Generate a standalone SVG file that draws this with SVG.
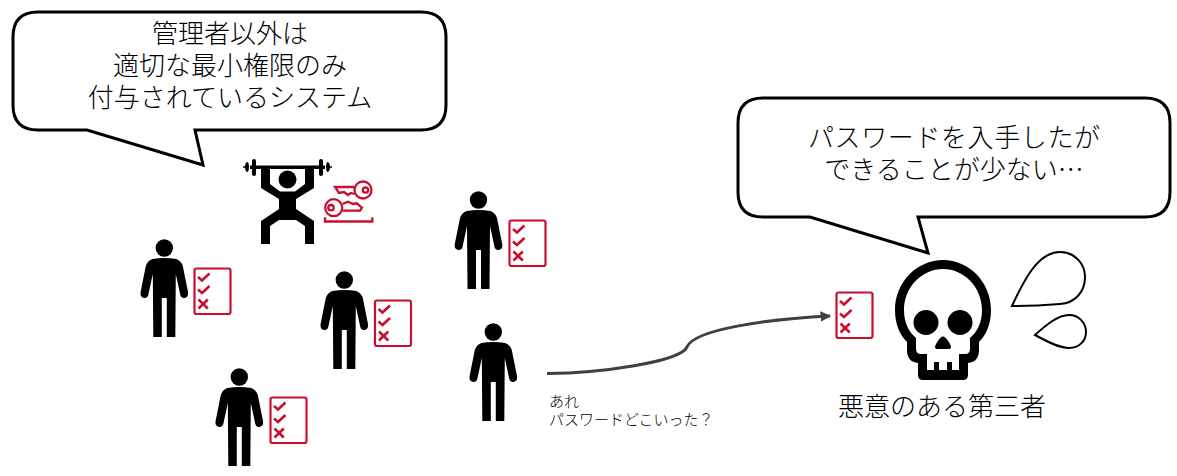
<svg xmlns="http://www.w3.org/2000/svg" width="1177" height="476" viewBox="0 0 1177 476">
<style>
text{font-family:"Noto Sans CJK JP","Noto Sans",sans-serif;fill:#000;font-weight:300}
.big{font-size:26px;text-anchor:middle}
.small{font-size:15px}
.bubble{fill:#fff;stroke:#000;stroke-width:3;stroke-linejoin:miter}
.red{fill:none;stroke:#c8102e;stroke-width:2.2}
.mark{fill:none;stroke:#c8102e;stroke-width:2.600}
.drop{fill:#fff;stroke:#000;stroke-width:2}
</style>
<defs>
<marker id="arrow" viewBox="0 0 10 10" refX="9" refY="5" markerWidth="3.500" markerHeight="3.500" orient="auto"><path d="M0 0L10 5L0 10Z" fill="#404040"/></marker>
<g id="person">
<circle cx="0" cy="0" r="8.700" fill="#000"/>
<path d="M-12 11Q-6 10 0 10Q6 10 12 11Q17 13 18.500 18L23.700 44Q24.500 49 20.500 50Q17 50.500 16 47L11.500 26L11 89L2.500 89L2.500 50L-2.500 50L-2.500 89L-11 89L-11.500 26L-16 47Q-17 50.500-20.500 50Q-24.500 49-23.700 44L-18.500 18Q-17 13-12 11Z" fill="#000"/>
</g>
<g id="checklist">
<rect x="1" y="1" width="36" height="45.500" rx="2" class="red"/>
<path d="M4.500 9.500L8.500 13L16 6M4.500 22L8.500 25.500L16 18.500" class="mark"/>
<path d="M5 32L14.300 41M14.300 32L5 41" class="mark"/>
</g>
</defs>

<g id="connectors">
<path d="M547 373.500C600 373 680 362 687 347C694 329 770 319 830 316" fill="none" stroke="#404040" stroke-width="3" marker-end="url(#arrow)"/>
</g>

<g id="bubble-admin">
<path class="bubble" d="M38 12H421Q446 12 446 37V105Q446 130 421 130H195L203 165L87 130H38Q13 130 13 105V37Q13 12 38 12Z"/>
<text class="big" x="230" y="43">管理者以外は</text>
<text class="big" x="230" y="75">適切な最小権限のみ</text>
<text class="big" x="230" y="107">付与されているシステム</text>
</g>

<g id="bubble-attacker">
<path class="bubble" d="M763 98H1145Q1170 98 1170 123V192Q1170 217 1145 217H918L928 253L810 217H763Q738 217 738 192V123Q738 98 763 98Z"/>
<text class="big" x="954" y="147" textLength="292">パスワードを入手したが</text>
<text class="big" x="954" y="179">できることが少ない…</text>
</g>

<g id="admin">
<rect x="250" y="165.500" width="75" height="3.500" fill="#000"/>
<rect x="252" y="159" width="4" height="17" rx="2" fill="#000"/>
<rect x="319" y="159" width="4" height="17" rx="2" fill="#000"/>
<path d="M248 162Q250 167 248 172Q245 172 245 167Q245 162 248 162ZM327 162Q330 162 330 167Q330 172 327 172Q325 167 327 162Z" fill="#000"/>
<path d="M243 167h3M329 167h3" stroke="#000" stroke-width="1.500"/>
<circle cx="287.500" cy="179.500" r="9" fill="#000"/>
<path d="M261 167H270V184L280 191.500H295L305 184V167H314V188L296 199V209L314 221V244H305V226L296 220H279L270 226V244H261V221L279 209V199L261 188Z" fill="#000"/>
<g id="keys" fill="none" stroke="#c8102e" stroke-width="2.300">
<circle cx="363" cy="190" r="8.500"/>
<circle cx="365.500" cy="190" r="2.700"/>
<path d="M354.500 187H335L339 193L344 192L348 195L351 193L354.500 194"/>
<circle cx="333.700" cy="207.700" r="8.500"/>
<circle cx="331" cy="207.700" r="2.700"/>
<path d="M342.500 204L348 201.700L353 204L356.700 203.300L362 207.700L360 210.700H342.500"/>
<path d="M325 217.300V221.500H372.300V217.300"/>
</g>
</g>

<g id="user1"><use href="#person" x="164.300" y="248"/><use href="#checklist" x="193.500" y="267.500"/></g>
<g id="user2"><use href="#person" x="344.300" y="280"/><use href="#checklist" x="374" y="299.500"/></g>
<g id="user3"><use href="#person" x="239.300" y="377"/><use href="#checklist" x="269.500" y="396.500"/></g>
<g id="user4"><use href="#person" x="478.500" y="200"/><use href="#checklist" x="508.500" y="219.500"/></g>
<g id="user5"><use href="#person" x="493.300" y="332"/></g>
<text class="small" x="549" y="407">あれ</text>
<text class="small" x="549" y="425">パスワードどこいった？</text>

<g id="attacker">
<use href="#checklist" x="835.500" y="291.500"/>
<path fill-rule="evenodd" fill="#000" d="M943 260C969 260 991 282 991 310C991 326 985 336 979 342V350Q979 362 968 363V375Q968 380 963 380H923Q918 380 918 375V363Q907 362 907 350V342C901 336 895 326 895 310C895 282 917 260 943 260ZM943 269C922 269 904 287 904 310C904 323 909 332 916 338V349Q916 354 921 354H927V370H934V362H939V370H947V362H952V370H959V354H965Q970 354 970 349V338C977 332 982 323 982 310C982 287 964 269 943 269Z"/>
<circle cx="926" cy="322.500" r="12.500" fill="#000"/>
<circle cx="960" cy="322.500" r="12.500" fill="#000"/>
<path d="M943 336.500C946 336.500 951 345 951 347Q951 349 948 349H938Q935 349 935 347C935 345 940 336.500 943 336.500Z" fill="#000"/>
<path class="drop" d="M1012 306C1024 280 1038 252 1060 252C1075 252 1085 264 1085 277C1085 292 1075 303 1060 304Q1035 306 1012 306Z"/>
<path class="drop" d="M1035 335C1046 325 1058 315 1069 315C1079 315 1086 323 1086 332C1086 341 1079 348 1069 348C1059 348 1046 341 1035 335Z"/>
<text class="big" x="942" y="416">悪意のある第三者</text>
</g>
</svg>
